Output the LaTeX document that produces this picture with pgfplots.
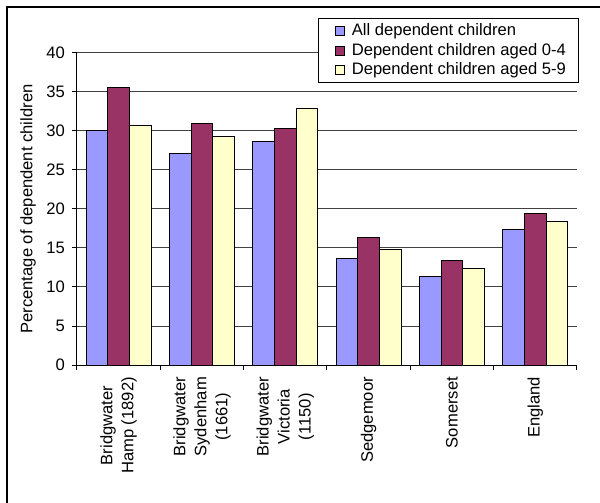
\documentclass[border=0pt]{standalone}
\usepackage{fontspec}
\setmainfont{Liberation Sans}
\usepackage{pgfplots}
\pgfplotsset{compat=1.18}

\definecolor{allblue}{HTML}{9999FF}
\definecolor{agedplum}{HTML}{993366}
\definecolor{agedcream}{HTML}{FFFFCC}

\newcommand{\chartfont}{\fontsize{8.3}{10.5}\selectfont}

\begin{document}
\begin{tikzpicture}
\begin{axis}[
  scale only axis,
  width=250pt, height=156pt,
  at={(0,0)}, anchor=south west,
  xmin=-0.5, xmax=5.5,
  ymin=0, ymax=40,
  ytick={0,5,...,40},
  xtick={0,1,2,3,4,5},
  xticklabels={{Bridgwater\\Hamp (1892)},{Bridgwater\\Sydenham\\(1661)},{Bridgwater\\Victoria\\(1150)},Sedgemoor,Somerset,England},
  xticklabel style={rotate=90, anchor=east, align=center, font=\chartfont},
  yticklabel style={font=\chartfont},
  /pgf/number format/assume math mode=true,
  x tick style={draw=none},
  extra x ticks={-0.5,0.5,1.5,2.5,3.5,4.5,5.5},
  extra x tick labels={},
  extra x tick style={grid=none, x tick style={draw=black, line width=0.5pt}, major tick length=2.5pt},
  tick align=outside,
  major tick length=2.5pt,
  y tick style={black, line width=0.5pt},
  axis lines*=left,
  axis line style={black, line width=0.5pt},
  ymajorgrids,
  major grid style={black!75, line width=0.5pt},
  ylabel={Percentage of dependent children},
  ylabel style={at={(axis description cs:-0.098,0.5)}, anchor=center, font=\chartfont},
  ybar,
  bar width=0.26,
  every axis plot/.append style={draw=black, line width=0.5pt},
  legend style={
    at={(0.4826,1.111)}, anchor=north west,
    draw=black, line width=0.5pt,
    font=\chartfont,
    inner xsep=6.5pt, inner ysep=1pt,
    nodes={inner xsep=0pt, inner ysep=1.2pt},
    row sep=0pt, column sep=0pt,
    legend cell align=left,
  },
  legend image code/.code={%
    \path[draw=none, fill=none] (0pt,0pt) -- (10pt,0pt);
    \draw[#1, line width=0.5pt] (2pt,-2.25pt) rectangle (6.5pt,2.25pt);},
]
\addplot[fill=allblue, bar shift=-0.26] coordinates {
  (0,30.0) (1,27.1) (2,28.6) (3,13.6) (4,11.4) (5,17.4)};
\addplot[fill=agedplum, bar shift=0] coordinates {
  (0,35.6) (1,31.0) (2,30.3) (3,16.3) (4,13.4) (5,19.4)};
\addplot[fill=agedcream, bar shift=0.26] coordinates {
  (0,30.7) (1,29.3) (2,32.9) (3,14.8) (4,12.4) (5,18.4)};
\legend{All dependent children, Dependent children aged 0-4, Dependent children aged 5-9}
\end{axis}
% outer chart frame
\draw[black, line width=0.6pt] (-35pt,-72.5pt) rectangle (263pt,179pt);
\pgfresetboundingbox
\path[use as bounding box] (-38.5pt,-69pt) rectangle (261.5pt,182.5pt);
\end{tikzpicture}
\end{document}
